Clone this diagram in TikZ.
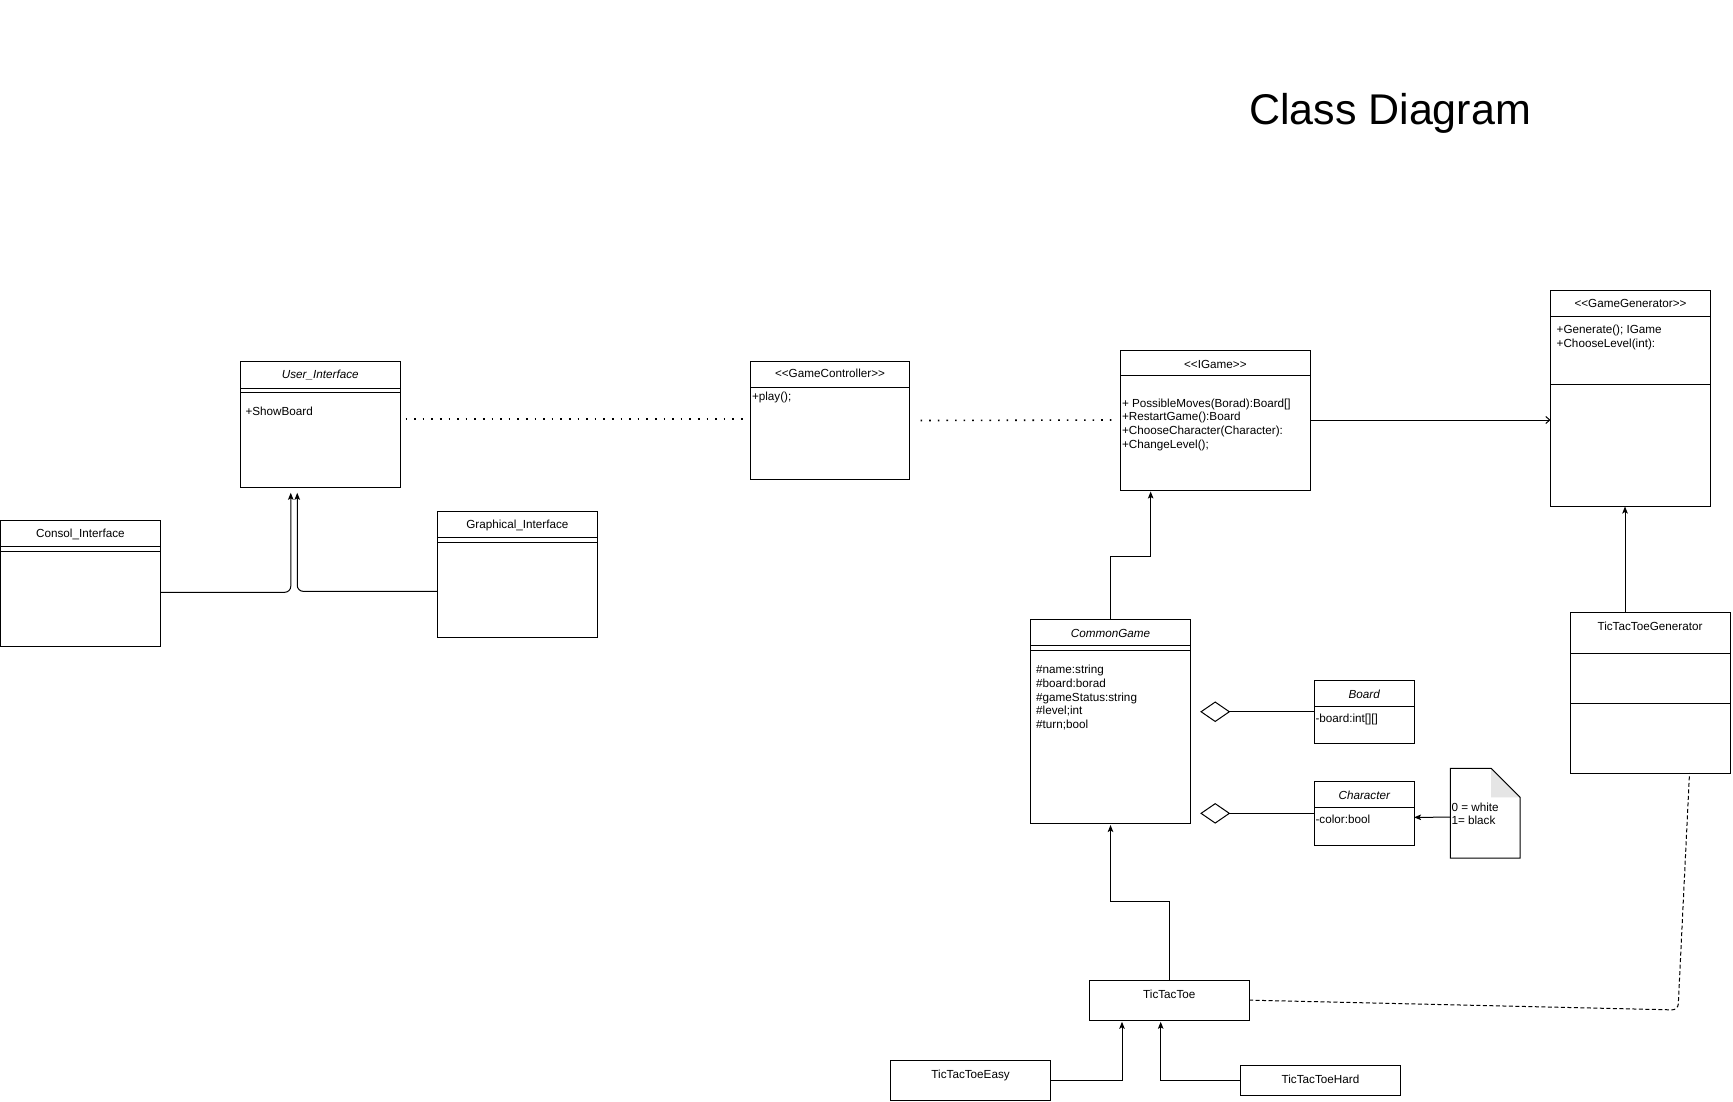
\documentclass[tikz,border=0pt]{standalone}
\usepackage{fontspec}
\setmainfont{Liberation Sans}[Ligatures=TeXOff]
\usetikzlibrary{arrows.meta}
\tikzset{
  box/.style={draw, line width=1pt, inner sep=0pt, outer sep=0pt, anchor=north west, fill=white},
  lbl/.style={font=\fontsize{11.7}{13}\selectfont, inner sep=0pt, outer sep=0pt, anchor=base},
  lblw/.style={lbl, anchor=base west},
  divider/.style={line width=1pt},
  inh/.style={line width=1pt, -{Stealth[length=7pt,width=5.5pt,inset=1.5pt]}},
  opn/.style={line width=1pt, -{Straight Barb[length=4pt,width=7pt]}},
  dots/.style={line width=1.6pt, dash pattern=on 1.6pt off 7pt},
  dsh/.style={line width=1pt, dash pattern=on 4pt off 2.5pt},
  agg/.style={line width=1pt, {Diamond[open,length=30pt,width=20.6pt]}-},
}
\begin{document}
\begin{tikzpicture}[x=1pt,y=-1pt]
\useasboundingbox (0,0) rectangle (1733,1102);
\fill[white] (0,0) rectangle (1733,1102);

% title
\node[anchor=base, inner sep=0pt, font=\fontsize{43}{50}\selectfont] (title) at (1390,125) {Class Diagram};

% User_Interface
\node[box, minimum width=160.5pt, minimum height=126pt] (ui) at (240,361.3) {};
\draw[divider] (ui.west |- 0,388) -- (ui.east |- 0,388);
\draw[divider] (ui.west |- 0,392.5) -- (ui.east |- 0,392.5);
\node[lbl, font=\fontsize{11.7}{13}\selectfont\itshape] (uit) at (320.25,378.5) {User\_Interface};
\node[lblw] (uia) at (245.5,415) {+ShowBoard};

% Consol_Interface
\node[box, minimum width=159.7pt, minimum height=126pt] (consol) at (0.6,520) {};
\draw[divider] (consol.west |- 0,546) -- (consol.east |- 0,546);
\draw[divider] (consol.west |- 0,551) -- (consol.east |- 0,551);
\node[lbl] (consolt) at (80.4,537.7) {Consol\_Interface};

% Graphical_Interface
\node[box, minimum width=159.3pt, minimum height=125.3pt] (graph) at (437.7,511.7) {};
\draw[divider] (graph.west |- 0,537.3) -- (graph.east |- 0,537.3);
\draw[divider] (graph.west |- 0,542.3) -- (graph.east |- 0,542.3);
\node[lbl] (grapht) at (517.35,528.3) {Graphical\_Interface};

% GameController
\node[box, minimum width=159.2pt, minimum height=118pt] (gc) at (750.4,361.5) {};
\draw[divider] (gc.west |- 0,387.3) -- (gc.east |- 0,387.3);
\node[lbl] (gct) at (830,377.3) {<<GameController>>};
\node[lblw] (gca) at (752,400.3) {+play();};

% IGame
\node[box, minimum width=189.3pt, minimum height=140pt] (ig) at (1120.7,350) {};
\draw[divider] (ig.west |- 0,375.7) -- (ig.east |- 0,375.7);
\node[lbl] (igt) at (1215.35,368.3) {<<IGame>>};
\node[lblw] (ig1) at (1122,407.3) {+ PossibleMoves(Borad):Board[]};
\node[lblw] (ig2) at (1122,420.9) {+RestartGame():Board};
\node[lblw] (ig3) at (1122,434.6) {+ChooseCharacter(Character):};
\node[lblw] (ig4) at (1122,448.2) {+ChangeLevel();};

% GameGenerator
\node[box, minimum width=160pt, minimum height=216pt] (gg) at (1550.5,290.5) {};
\draw[divider] (gg.west |- 0,316) -- (gg.east |- 0,316);
\draw[divider] (gg.west |- 0,384) -- (gg.east |- 0,384);
\node[lbl] (ggt) at (1630.5,308) {<<GameGenerator>>};
\node[lblw] (gg1) at (1556.7,334) {+Generate(); IGame};
\node[lblw] (gg2) at (1556.7,347.5) {+ChooseLevel(int):};

% TicTacToeGenerator
\node[box, minimum width=160pt, minimum height=161pt] (tg) at (1570,612) {};
\draw[divider] (tg.west |- 0,653.3) -- (tg.east |- 0,653.3);
\draw[divider] (tg.west |- 0,703.3) -- (tg.east |- 0,703.3);
\node[lbl] (tgt) at (1650,630) {TicTacToeGenerator};

% CommonGame
\node[box, minimum width=160pt, minimum height=204pt] (cg) at (1030.5,619.5) {};
\draw[divider] (cg.west |- 0,645.3) -- (cg.east |- 0,645.3);
\draw[divider] (cg.west |- 0,650.3) -- (cg.east |- 0,650.3);
\node[lbl, font=\fontsize{11.7}{13}\selectfont\itshape] (cgt) at (1110.5,637.3) {CommonGame};
\node[lblw] (cg1) at (1036.2,673.3) {\#name:string};
\node[lblw] (cg2) at (1036.2,687.2) {\#board:borad};
\node[lblw] (cg3) at (1036.2,701.1) {\#gameStatus:string};
\node[lblw] (cg4) at (1036.2,714.8) {\#level;int};
\node[lblw] (cg5) at (1036.2,728.6) {\#turn;bool};

% Board
\node[box, minimum width=99.5pt, minimum height=62.5pt] (board) at (1314.5,680.5) {};
\draw[divider] (board.west |- 0,706.7) -- (board.east |- 0,706.7);
\node[lbl, font=\fontsize{11.7}{13}\selectfont\itshape] (boardt) at (1364.25,698) {Board};
\node[lblw] (boarda) at (1315.5,722.3) {-board:int[][]};

% Character
\node[box, minimum width=99.5pt, minimum height=63.3pt] (char) at (1314.5,781.7) {};
\draw[divider] (char.west |- 0,807.7) -- (char.east |- 0,807.7);
\node[lbl, font=\fontsize{11.7}{13}\selectfont\itshape] (chart) at (1364.25,799.7) {Character};
\node[lblw] (chara) at (1315.5,823) {-color:bool};

% Note
\node[inner sep=0pt, outer sep=0pt, minimum width=69.6pt, minimum height=89.7pt, anchor=north west] (note) at (1450.4,768.3) {};
\draw[line width=1pt, fill=white] (note.north west) -- ([xshift=-29pt]note.north east) -- ([yshift=-29pt]note.north east) -- (note.south east) -- (note.south west) -- cycle;
\fill[black!10] ([xshift=-29pt]note.north east) -- ([xshift=-29pt,yshift=-29pt]note.north east) -- ([yshift=-29pt]note.north east) -- cycle;
\draw[line width=1pt] ([xshift=-29pt]note.north east) -- ([yshift=-29pt]note.north east);
\node[lblw] (note1) at (1451.5,811) {0 = white};
\node[lblw] (note2) at (1451.5,824.7) {1= black};

% TicTacToe family
\node[box, minimum width=159.4pt, minimum height=40.3pt] (ttt) at (1089.6,980) {};
\node[lbl] (tttt) at (1169.3,998) {TicTacToe};
\node[box, minimum width=159.4pt, minimum height=40pt] (easy) at (890.9,1060.3) {};
\node[lbl] (easyt) at (970.6,1078.3) {TicTacToeEasy};
\node[box, minimum width=159.3pt, minimum height=30pt] (hard) at (1240.8,1065.3) {};
\node[lbl] (hardt) at (1320.45,1083) {TicTacToeHard};

% connectors
\draw[inh, rounded corners=6pt] ([yshift=-9.3pt]consol.east) -| ([xshift=-29.5pt,yshift=-5.5pt]ui.south);
\draw[inh, rounded corners=6pt] ([yshift=-17pt]graph.west) -| ([xshift=-23pt,yshift=-5.5pt]ui.south);
\draw[dots] ([xshift=5pt]ui.east |- 0,419) -- ([xshift=-3.5pt]gc.west |- 0,419);
\draw[dots] ([xshift=11pt]gc.east) -- ([xshift=-4.5pt]ig.west);
\draw[opn] (ig.east) -- (ig.east -| gg.west);
\draw[inh] ([xshift=-25pt]tg.north) -- ([xshift=-25pt]tg.north |- gg.south);
\draw[inh] (cg.north) |- ([xshift=-64.7pt]ig.south |- 0,556) -- ([xshift=-64.7pt,yshift=-1.5pt]ig.south);
\draw[inh] (ttt.north) |- (cg.south |- 0,901.7) -- ([yshift=-1.5pt]cg.south);
\draw[inh] (easy.east) -| ([xshift=-47.3pt,yshift=-1.5pt]ttt.south);
\draw[inh] (hard.west) -| ([xshift=-8.6pt,yshift=-1.5pt]ttt.south);
\coordinate (bend) at (1678,1010);
\draw[dsh, rounded corners=6pt] (ttt.east) -- (bend) -- ([xshift=39.5pt]tg.south);
\draw[agg] ([xshift=-114.3pt]board.west) -- (board.west);
\draw[agg] ([xshift=-114.3pt]char.west) -- (char.west);
\draw[inh] ([yshift=-4pt]note.west) -- ([yshift=-4pt]char.east);
\end{tikzpicture}
\end{document}
